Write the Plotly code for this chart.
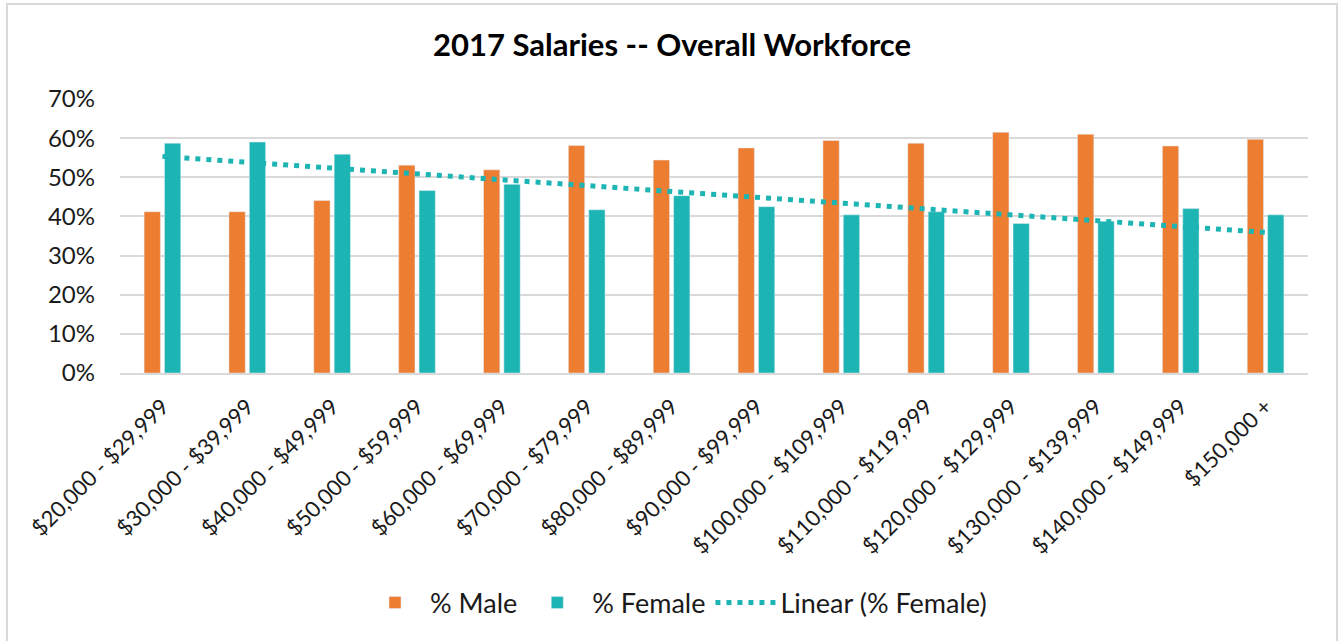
import numpy as np
import plotly.graph_objects as go

categories = ["$20,000 - $29,999", "$30,000 - $39,999", "$40,000 - $49,999",
              "$50,000 - $59,999", "$60,000 - $69,999", "$70,000 - $79,999",
              "$80,000 - $89,999", "$90,000 - $99,999", "$100,000 - $109,999",
              "$110,000 - $119,999", "$120,000 - $129,999", "$130,000 - $139,999",
              "$140,000 - $149,999", "$150,000 +"]
male = [0.412, 0.412, 0.441, 0.531, 0.519, 0.581, 0.544, 0.575, 0.594,
        0.587, 0.615, 0.610, 0.580, 0.597]
female = [0.587, 0.590, 0.559, 0.466, 0.482, 0.417, 0.453, 0.425, 0.404,
          0.412, 0.382, 0.388, 0.420, 0.404]
y_ticks = [0, 0.1, 0.2, 0.3, 0.4, 0.5, 0.6, 0.7]

# Linear trendline of % Female (least squares over category index)
idx = np.arange(1, len(female) + 1)
slope, intercept = np.polyfit(idx, female, 1)
trend = slope * idx + intercept

ORANGE = "#ED7D31"
TEAL = "#1DB5B3"
FONT = "Lato"

fig = go.Figure()
fig.add_trace(go.Bar(x=categories, y=male, name="% Male", marker_color=ORANGE))
fig.add_trace(go.Bar(x=categories, y=female, name="% Female", marker_color=TEAL))
fig.add_trace(go.Scatter(x=categories, y=trend, name="Linear (% Female)", mode="lines",
                         line=dict(color=TEAL, width=5, dash="5px,6px")))

W, H = 1343, 641
L, R, T, B = 120, 35, 99, 268
pw = W - L - R
ph = H - T - B


def px_x(px):
    return (px - L) / pw


def px_y(py):
    return (H - B - py) / ph


fig.update_layout(
    width=W, height=H,
    margin=dict(l=L, r=R, t=T, b=B, autoexpand=False),
    paper_bgcolor="white", plot_bgcolor="white",
    barmode="group", bargap=0.52, bargroupgap=0.2,
    font=dict(family=FONT, size=22, color="#1a1a1a"),
    title=dict(text="<b>2017 Salaries -- Overall Workforce</b>", xref="container", x=672 / W,
               xanchor="center", yref="container", y=1 - 45 / H, yanchor="middle",
               font=dict(family=FONT, size=31, color="#000000")),
    showlegend=True,
    legend=dict(orientation="h", x=px_x(676), xanchor="center", y=px_y(603), yanchor="middle",
                font=dict(family=FONT, size=27, color="#1a1a1a"), itemwidth=60,
                traceorder="normal"),
    xaxis=dict(tickangle=-45, showgrid=False, showline=True, linecolor="#D9D9D9", linewidth=2,
               ticks="", ticklabelstandoff=10,
               tickfont=dict(family=FONT, size=22, color="#1a1a1a")),
    yaxis=dict(range=[0, 0.7], tickvals=y_ticks, tickformat=".0%", showgrid=True,
               gridcolor="#D9D9D9", gridwidth=2, zeroline=False, showline=False,
               ticks="", ticklabelstandoff=24,
               tickfont=dict(family=FONT, size=24, color="#1a1a1a")),
)

fig.add_shape(type="rect", xref="paper", yref="paper",
              x0=px_x(7), x1=px_x(1337), y0=px_y(700), y1=px_y(4),
              line=dict(color="#D9D9D9", width=2), fillcolor="rgba(0,0,0,0)", layer="below")

fig.write_html("out.html", config={"displayModeBar": False},
               post_script="document.body.style.margin='0px';")
